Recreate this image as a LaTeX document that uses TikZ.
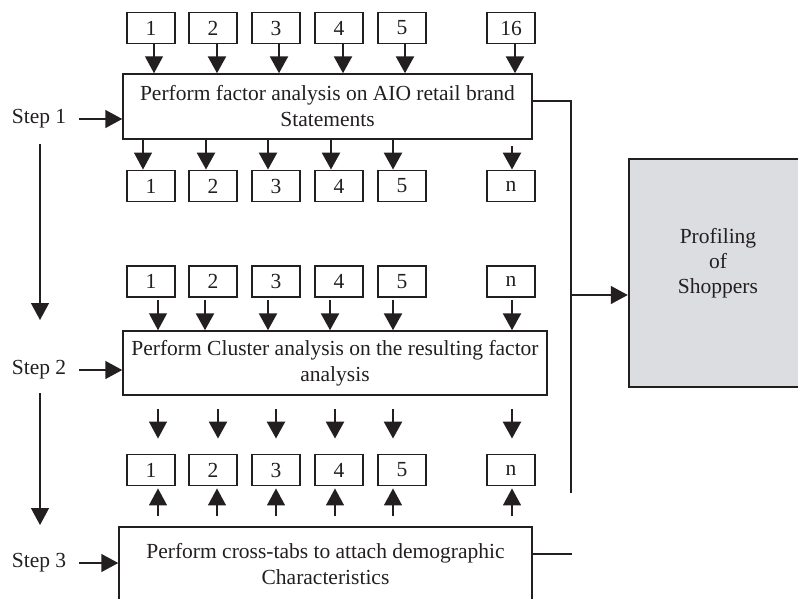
\documentclass[tikz,border=0pt]{standalone}
\usepackage{fontspec}
\setmainfont{Liberation Serif}
\usetikzlibrary{arrows.meta}
\definecolor{ink}{HTML}{231F20}
\definecolor{profgray}{HTML}{DCDDE0}
\begin{document}
\begin{tikzpicture}[x=1pt,y=-1pt,
  >={Triangle[length=17pt,width=18pt]},
  every node/.style={font=\fontsize{21.5}{26}\selectfont, text=ink},
  numbox/.style={draw=ink, line width=1.9pt, minimum width=48pt, minimum height=31pt, inner sep=0pt},
  mainbox/.style={draw=ink, line width=1.5pt, inner sep=0pt, align=center},
  steplabel/.style={inner sep=0pt},
  plainline/.style={draw=ink, line width=1.5pt},
  thinarr/.style={draw=ink, line width=1.2pt, ->},
  thickarr/.style={draw=ink, line width=2.6pt, ->},
  midarr/.style={draw=ink, line width=1.5pt, ->},
  profbox/.style={draw=ink, line width=2.5pt, fill=profgray, minimum width=183pt, minimum height=228pt, inner sep=0pt}
]
\useasboundingbox (0,0) rectangle (798,598);

% row 1
\foreach \i/\x/\t in {1/151/1,2/213/2,3/276/3,4/339/4,5/402/5,6/511/16}
  \node[numbox] (r1\i) at (\x,28) {\t};
% row 2
\foreach \i/\x/\t in {1/151/1,2/213/2,3/276/3,4/339/4,5/402/5,6/511/n}
  \node[numbox] (r2\i) at (\x,186) {\t};
% row 3
\foreach \i/\x/\t in {1/151/1,2/213/2,3/276/3,4/339/4,5/402/5,6/511/n}
  \node[numbox] (r3\i) at (\x,281.5) {\t};
% row 4
\foreach \i/\x/\t in {1/151/1,2/213/2,3/276/3,4/339/4,5/402/5,6/511/n}
  \node[numbox] (r4\i) at (\x,470) {\t};

% main boxes
\node[mainbox, minimum width=409pt, minimum height=65pt] (m1) at (327.5,106.5)
  {Perform factor analysis on AIO retail brand\\Statements};
\node[mainbox, minimum width=424pt, minimum height=64pt] (m2) at (335,363)
  {Perform Cluster analysis on the resulting factor\\analysis};
\node[mainbox, minimum width=413pt, minimum height=74pt] (m3) at (325.5,564)
  {Perform cross-tabs to attach demographic\\Characteristics};

% profiling box
\node[profbox] (prof) at (720.5,273) {};
\node[align=center, font=\fontsize{21.5}{25}\selectfont] (proftext) at (718,263) {Profiling\\of\\Shoppers};

% step labels
\node[steplabel] (s1) at (39,119) {Step 1};
\node[steplabel] (s2) at (39,370) {Step 2};
\node[steplabel] (s3) at (39,563) {Step 3};

\draw[midarr] ([xshift=13pt]s1.east) -- (s1.east -| m1.west);
\draw[midarr] ([xshift=13pt]s2.east) -- (s2.east -| m2.west);
\draw[midarr] ([xshift=13pt]s3.east) -- (s3.east -| m3.west);

\coordinate (v1a) at (40,144);
\coordinate (v1b) at (40,320);
\coordinate (v2a) at (40,393);
\coordinate (v2b) at (40,525);
\draw[midarr] (v1a) -- (v1b);
\draw[midarr] (v2a) -- (v2b);

% row 1 -> m1
\foreach \i/\dx/\st in {1/3/thinarr,2/4/thickarr,3/3/thickarr,4/4/thickarr,5/3/thickarr,6/4/thickarr}
  \draw[\st] ([xshift=\dx pt]r1\i.south) -- ([xshift=\dx pt]r1\i.south |- m1.north);
% m1 -> row 2
\foreach \i/\dx/\st in {1/-8/thinarr,2/-7/thickarr,3/-8/thickarr,4/-8/thickarr,5/-9/thickarr}
  \draw[\st] ([xshift=\dx pt]r2\i.north |- m1.south) -- ([xshift=\dx pt]r2\i.north);
\draw[thickarr, shorten <=6pt] ([xshift=1pt]r26.north |- m1.south) -- ([xshift=1pt]r26.north);
% row 3 -> m2
\foreach \i/\dx/\st in {1/7/thinarr,2/-8/thickarr,3/-8/thickarr,4/-9/thickarr,5/-9/thickarr,6/1/thickarr}
  \draw[\st, shorten <=2pt] ([xshift=\dx pt]r3\i.south) -- ([xshift=\dx pt]r3\i.south |- m2.north);
% m2 -> row 4 (free)
\foreach \i/\dx/\st in {1/7/thinarr,2/5/thickarr,3/0/thickarr,4/-4/thickarr,5/-9/thickarr,6/1/thickarr}
  \draw[\st, shorten <=13pt, shorten >=15pt] ([xshift=\dx pt]r4\i.north |- m2.south) -- ([xshift=\dx pt]r4\i.north);
% m3 -> row 4
\foreach \i/\dx in {1/7,2/4,3/0,4/-4,5/-9,6/1}
  \draw[midarr, shorten <=10pt, shorten >=2pt] ([xshift=\dx pt]r4\i.south |- m3.north) -- ([xshift=\dx pt]r4\i.south);

% right bus
\coordinate (busTop) at (571,101);
\coordinate (busBot) at (571,493);
\coordinate (busMid) at (571,295);
\coordinate (m3end) at (572,554);
\draw[plainline] ([yshift=5.5pt]m1.east) -- (busTop) -- (busBot);
\draw[midarr] (busMid) -- (prof.west |- busMid);
\draw[plainline] ([yshift=10pt]m3.east) -- (m3end);
\end{tikzpicture}
\end{document}
